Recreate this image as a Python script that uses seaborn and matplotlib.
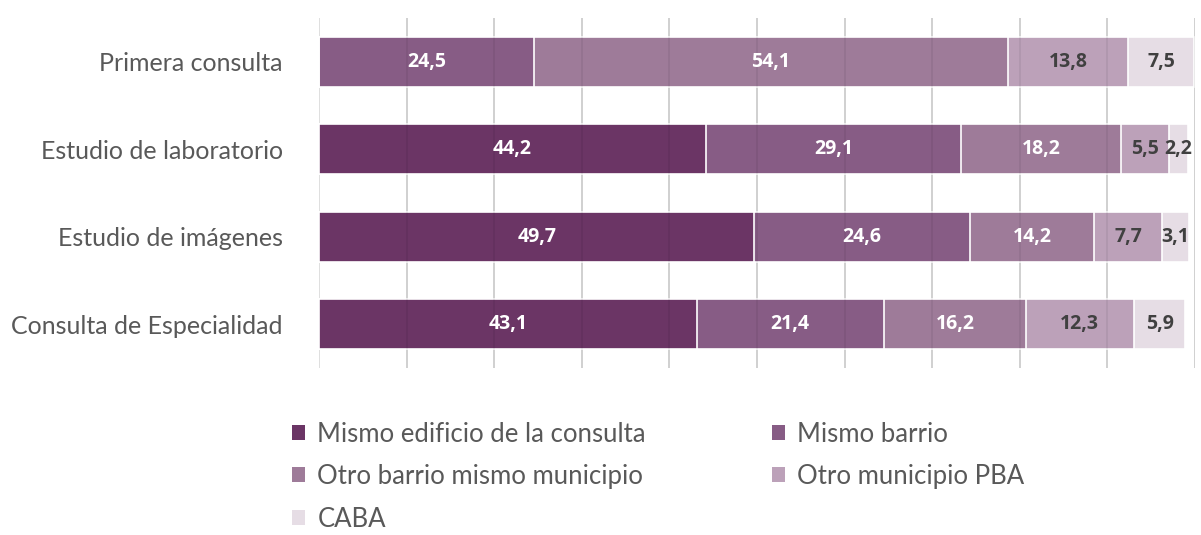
import matplotlib
matplotlib.use('Agg')
import matplotlib.pyplot as plt
from matplotlib.patches import Patch
import seaborn as sns
import pandas as pd
import numpy as np

# data
categories = ['Primera consulta', 'Estudio de laboratorio', 'Estudio de imágenes', 'Consulta de Especialidad']
series = ['Mismo edificio de la consulta', 'Mismo barrio', 'Otro barrio mismo municipio',
          'Otro municipio PBA', 'CABA']
edificio = [0.0, 44.2, 49.7, 43.1]
barrio = [24.5, 29.1, 24.6, 21.4]
otro_barrio = [54.1, 18.2, 14.2, 16.2]
otro_municipio = [13.8, 5.5, 7.7, 12.3]
caba = [7.5, 2.2, 3.1, 5.9]

colors = ['#6B3565', '#875C85', '#9E7B99', '#BCA1B9', '#E6DDE5']
label_colors = ['white', 'white', 'white', '#404040', '#404040']

sns.set_style('white')
plt.rcParams['font.family'] = ['Lato', 'DejaVu Sans']

values = np.array([edificio, barrio, otro_barrio, otro_municipio, caba])
cum = values.cumsum(axis=0)

df = pd.DataFrame({'categoria': categories})
for i, s in enumerate(series):
    df[s] = values[i]
    df[s + '_cum'] = cum[i]

fig = plt.figure(figsize=(12.01, 5.35), dpi=100)
ax = fig.add_axes([0.2656, 0.312, 0.7294, 0.6544])

# light grid under the bars
for x in range(0, 101, 10):
    ax.axvline(x, color='#D9D9D9', lw=1.2, zorder=0)

# stacked bars: draw cumulative totals from the last series back to the first
for i in range(len(series) - 1, -1, -1):
    sns.barplot(data=df, y='categoria', x=series[i] + '_cum', color=colors[i],
                orient='h', width=0.57, edgecolor='white', linewidth=1.2,
                saturation=1, ax=ax, zorder=2)

# faint grid lines that show through the bars
for x in range(10, 101, 10):
    ax.axvline(x, color='black', alpha=0.07, lw=1.2, zorder=3)

# value labels (bold)
for i in range(len(series)):
    for j in range(len(categories)):
        v = values[i, j]
        if v <= 0:
            continue
        xc = cum[i, j] - v / 2
        ax.text(xc, j, f'{v:.1f}'.replace('.', ','), ha='center', va='center',
                fontsize=14, fontweight='bold', family=['Open Sans', 'DejaVu Sans'],
                color=label_colors[i], zorder=4)

ax.set_xlim(0, 100)
ax.set_ylim(3.5, -0.5)
ax.set_xlabel('')
ax.set_ylabel('')
ax.set_xticks([])
ax.tick_params(axis='y', length=0, pad=26, labelsize=18, labelcolor='#595959')
for sp in ax.spines.values():
    sp.set_visible(False)

handles = [Patch(facecolor=colors[k], edgecolor='none') for k in [0, 2, 4, 1, 3]]
labels = [series[k] for k in [0, 2, 4, 1, 3]]
fig.legend(handles, labels, ncol=2, loc='upper left', bbox_to_anchor=(0.243, 0.212),
           frameon=False, fontsize=18.5, labelcolor='#595959', handlelength=0.52,
           handleheight=0.52, handletextpad=0.47, columnspacing=4.9, labelspacing=0.68,
           borderaxespad=0, borderpad=0)

fig.savefig('out.png', dpi=100)
